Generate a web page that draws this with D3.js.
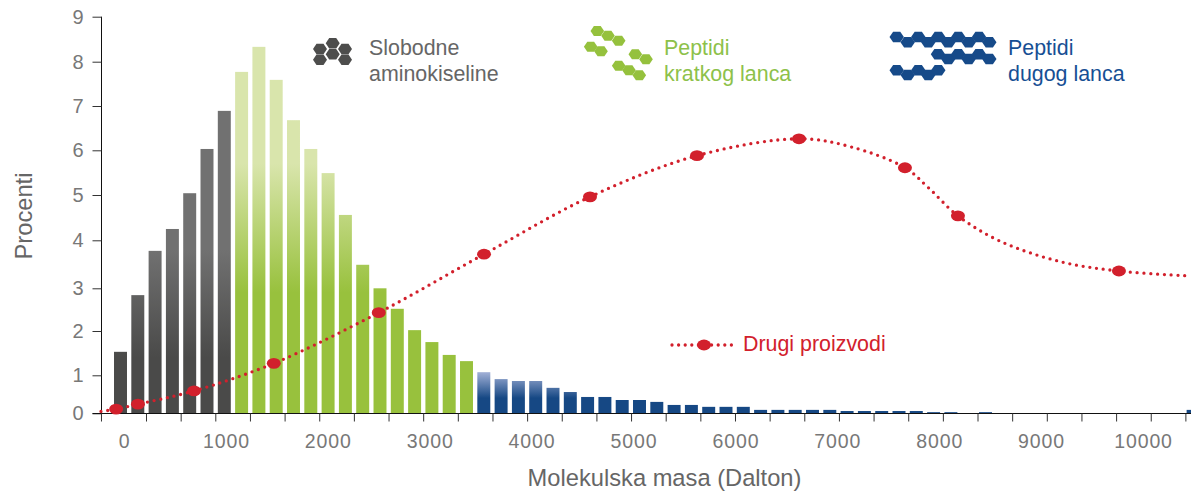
<!DOCTYPE html>
<html>
<head>
<meta charset="utf-8">
<script src="https://cdn.jsdelivr.net/npm/d3@7"></script>
<style>
  html, body { margin: 0; background: #fff; overflow: hidden; }
  svg { display: block; }
  text { font-family: "Liberation Sans", Arial, sans-serif; }
  .tick-label { font-size: 19.5px; fill: #787878; letter-spacing: 0.9px; }
  .title { font-size: 23.7px; fill: #666; }
  .legend { font-size: 21.4px; }
</style>
</head>
<body>
<div id="chart"></div>
<script>
const W = 1191, H = 491;

// percent per bar, left to right
const barValues = [
  1.53, 2.84, 3.78, 4.25, 5.04, 6.03, 6.89,
  7.77, 8.33, 7.59, 6.68, 6.03, 5.49, 4.56, 3.49, 3.0, 2.52, 2.02, 1.75, 1.46, 1.32,
  1.07, 0.90, 0.85, 0.85, 0.67, 0.56, 0.43, 0.43, 0.35, 0.35, 0.30, 0.22, 0.22, 0.17, 0.17, 0.17,
  0.09, 0.09, 0.09, 0.09, 0.09, 0.06, 0.06, 0.06, 0.06, 0.06, 0.03, 0.03, 0, 0.03,
  0, 0, 0, 0, 0, 0, 0, 0, 0, 0, 0, 0.09
];
const GRAY_END = 7, GREEN_END = 21;

// red curve, "Drugi proizvodi"
const lineMass = [-226, -77, 137, 687, 1470, 2500, 3533, 4573, 5623, 6624, 7130, 7664, 7900, 8184, 8600, 9200, 9764, 10430];
const lineValues = [0.05, 0.11, 0.24, 0.59, 1.27, 2.43, 3.71, 4.96, 5.88, 6.26, 6.08, 5.61, 5.15, 4.54, 3.98, 3.55, 3.36, 3.26];
const markerMass = [-77, 137, 687, 1470, 2500, 3533, 4573, 5623, 6624, 7664, 8184, 9764];
const markerValues = [0.11, 0.24, 0.59, 1.27, 2.43, 3.71, 4.96, 5.88, 6.26, 5.61, 4.54, 3.36];

const yTicks = [0, 1, 2, 3, 4, 5, 6, 7, 8, 9];
const xLabels = [0, 1000, 2000, 3000, 4000, 5000, 6000, 7000, 8000, 9000, 10000];

// the printed y axis is not evenly spaced, so the scale is piecewise
const y = d3.scaleLinear().domain(yTicks)
  .range([413.3, 375.3, 331, 288.3, 240.3, 195, 150.3, 106, 61.7, 16.7]);
const x = d3.scaleLinear().domain([0, 10000]).range([124, 1143]);
const xBar = d3.scaleBand().domain(d3.range(barValues.length))
  .range([111.85, 111.85 + 17.3 * barValues.length]).paddingInner(0.25).paddingOuter(0.125);

const svg = d3.select('#chart').append('svg').attr('width', W).attr('height', H);

const defs = svg.append('defs');
function gradient(id, v0, v1, c0, c1) {
  const g = defs.append('linearGradient').attr('id', id)
    .attr('gradientUnits', 'userSpaceOnUse')
    .attr('x1', 0).attr('x2', 0).attr('y1', y(v0)).attr('y2', y(v1));
  g.append('stop').attr('offset', 0).attr('stop-color', c0);
  g.append('stop').attr('offset', 1).attr('stop-color', c1);
}
gradient('gradGray', 3.8, 1.4, '#717171', '#4a4a49');
gradient('gradGreen', 5.7, 2.9, '#d9e5ac', '#98c13d');
gradient('gradBlue', 1.05, 0.4, '#9dadd4', '#164884');

svg.append('g').selectAll('rect')
  .data(barValues.map((v, i) => ({ v, i })).filter(d => d.v > 0))
  .join('rect')
  .attr('x', d => xBar(d.i))
  .attr('width', xBar.bandwidth())
  .attr('y', d => y(d.v))
  .attr('height', d => y(0) - y(d.v))
  .attr('fill', d => d.i < GRAY_END ? 'url(#gradGray)' : d.i < GREEN_END ? 'url(#gradGreen)' : 'url(#gradBlue)');

// y axis
const yAxis = svg.append('g').attr('transform', 'translate(101.5,0)')
  .call(d3.axisLeft(y).tickValues(yTicks).tickFormat(d3.format('d')).tickSize(9).tickPadding(9));
yAxis.select('.domain').attr('stroke', '#111').attr('d', `M0,${y(9)}V${y(0)}`);
yAxis.selectAll('.tick line').attr('stroke', '#333');
yAxis.selectAll('.tick text').attr('class', 'tick-label').attr('style', 'letter-spacing:0;font-size:20px');

// x axis: tick marks every 340 Da, labels sit separately on round masses
const tickMass = [-226].concat(d3.range(216, 10500, 340));
const xAxisMarks = svg.append('g').attr('transform', 'translate(0,413.5)')
  .call(d3.axisBottom(x).tickValues(tickMass).tickFormat('').tickSize(8));
xAxisMarks.select('.domain').attr('stroke', '#111').attr('d', `M92.5,0H${W}`);
xAxisMarks.selectAll('.tick line').attr('stroke', '#333');

const xAxisLabels = svg.append('g').attr('transform', 'translate(0,413.5)')
  .call(d3.axisBottom(x).tickValues(xLabels).tickFormat(d3.format('d')).tickSize(0).tickPadding(21));
xAxisLabels.select('.domain').remove();
xAxisLabels.selectAll('.tick text').attr('class', 'tick-label');

svg.append('text').attr('class', 'title')
  .attr('x', 664.5).attr('y', 485.5).attr('text-anchor', 'middle')
  .text('Molekulska masa (Dalton)');
svg.append('text').attr('class', 'title')
  .attr('transform', 'translate(32,216) rotate(-90)').attr('text-anchor', 'middle')
  .text('Procenti');

// red dotted curve with markers
const line = d3.line().x((d, i) => x(lineMass[i])).y(d => y(d)).curve(d3.curveCatmullRom.alpha(0.5));
const RED = '#d2202c';
svg.append('path').attr('d', line(lineValues))
  .attr('fill', 'none').attr('stroke', RED)
  .attr('stroke-width', 3.3).attr('stroke-linecap', 'round').attr('stroke-dasharray', '0 6.8');
svg.append('g').selectAll('ellipse').data(markerValues).join('ellipse')
  .attr('cx', (d, i) => x(markerMass[i])).attr('cy', d => y(d))
  .attr('rx', 7).attr('ry', 5.4).attr('fill', RED);

// legends
const hexShape = (cx, cy, rx, ry) => d3.line()([
  [cx - rx, cy], [cx - rx / 2, cy - ry], [cx + rx / 2, cy - ry],
  [cx + rx, cy], [cx + rx / 2, cy + ry], [cx - rx / 2, cy + ry]
]) + 'Z';

const grayHexes = [[320, 49], [332.7, 43.3], [345, 49], [332.7, 54.3], [320, 59.7], [345, 59.7]];
const greenHexes = [[597.3, 31], [608, 35.7], [618.7, 40.7], [590.7, 46.7], [601, 51.3],
  [635.3, 54.3], [646, 59.3], [618.7, 65.7], [629, 70.3], [639.3, 75.3]];
const blueHexes = [[896.7, 37], [907.7, 42.3], [918.3, 37], [928.3, 42.3], [938.3, 37], [948.3, 42.3],
  [958.3, 37], [968.7, 42.3], [979, 37], [989.3, 42.3],
  [938, 54.3], [948.3, 59], [958.3, 54.3], [968.7, 59], [979, 54.3], [989.3, 59],
  [896.7, 70.3], [907.7, 75], [918.3, 70.3], [928.3, 75], [938.3, 70.3]];

function hexes(list, color, rx, ry) {
  svg.append('g').selectAll('path').data(list).join('path')
    .attr('d', d => hexShape(d[0], d[1], rx, ry)).attr('fill', color);
}
hexes(grayHexes, '#4d4d4c', 7, 5.3);
hexes(greenHexes, '#95c13d', 6.8, 5);
hexes(blueHexes, '#164a89', 7.2, 5.3);

function legendText(tx, lines, color) {
  lines.forEach((s, i) => {
    svg.append('text').attr('class', 'legend').attr('x', tx).attr('y', 54.5 + i * 26)
      .attr('fill', color).text(s);
  });
}
legendText(369, ['Slobodne', 'aminokiseline'], '#666');
legendText(664, ['Peptidi', 'kratkog lanca'], '#8dc14a');
legendText(1008, ['Peptidi', 'dugog lanca'], '#174f94');

// legend entry for the red curve
svg.append('line').attr('x1', 672).attr('x2', 737).attr('y1', 345).attr('y2', 345)
  .attr('stroke', RED).attr('stroke-width', 3.3).attr('stroke-linecap', 'round').attr('stroke-dasharray', '0 6.6');
svg.append('ellipse').attr('cx', 704).attr('cy', 345).attr('rx', 7).attr('ry', 5.4).attr('fill', RED);
svg.append('text').attr('class', 'legend').attr('x', 743).attr('y', 351).attr('fill', RED).text('Drugi proizvodi');
</script>
</body>
</html>
